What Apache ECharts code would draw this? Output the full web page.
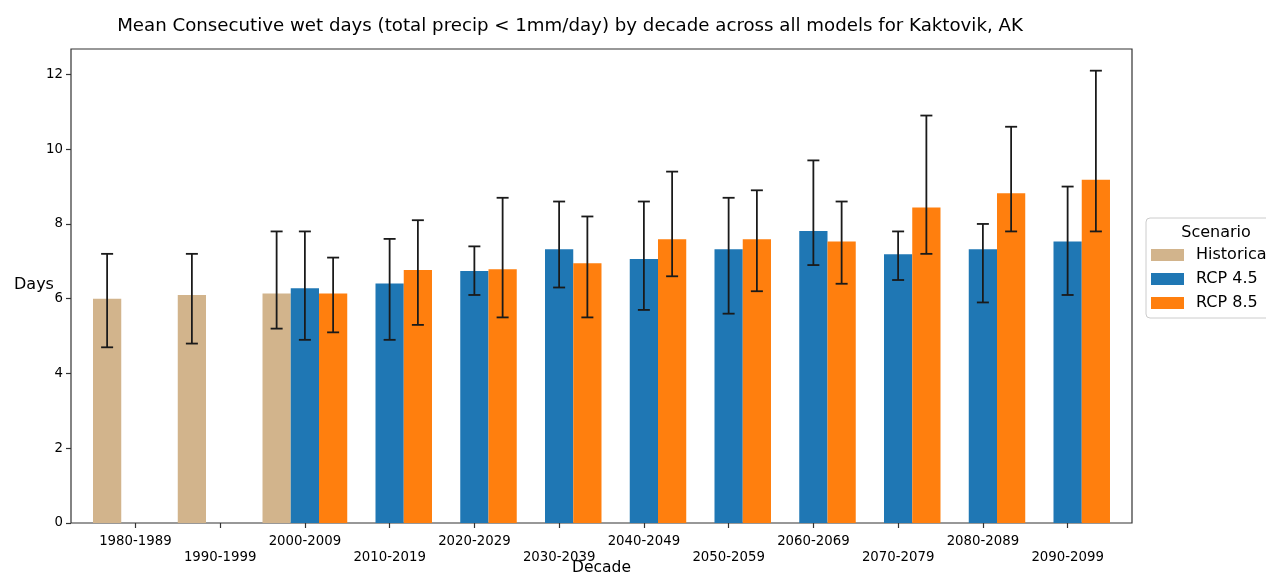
<!DOCTYPE html>
<html>
<head>
<meta charset="utf-8">
<script src="https://cdn.jsdelivr.net/npm/echarts@6/dist/echarts.min.js"></script>
<style>html,body{margin:0;padding:0;background:#fff;}#c{width:1266px;height:576px;}</style>
</head>
<body>
<div id="c"></div>
<script>
const decades = ['1980-1989','1990-1999','2000-2009','2010-2019','2020-2029','2030-2039','2040-2049','2050-2059','2060-2069','2070-2079','2080-2089','2090-2099'];
const histMean  = [6.0, 6.1, 6.14, '-', '-', '-', '-', '-', '-', '-', '-', '-'];
const histLow   = [4.7, 4.8, 5.2,  '-', '-', '-', '-', '-', '-', '-', '-', '-'];
const histHigh  = [7.2, 7.2, 7.8,  '-', '-', '-', '-', '-', '-', '-', '-', '-'];
const rcp45Mean = ['-', '-', 6.28, 6.41, 6.74, 7.32, 7.06, 7.32, 7.81, 7.19, 7.32, 7.53];
const rcp45Low  = ['-', '-', 4.9, 4.9, 6.1, 6.3, 5.7, 5.6, 6.9, 6.5, 5.9, 6.1];
const rcp45High = ['-', '-', 7.8, 7.6, 7.4, 8.6, 8.6, 8.7, 9.7, 7.8, 8.0, 9.0];
const rcp85Mean = ['-', '-', 6.14, 6.77, 6.79, 6.95, 7.59, 7.59, 7.53, 8.44, 8.82, 9.18];
const rcp85Low  = ['-', '-', 5.1, 5.3, 5.5, 5.5, 6.6, 6.2, 6.4, 7.2, 7.8, 7.8];
const rcp85High = ['-', '-', 7.1, 8.1, 8.7, 8.2, 9.4, 8.9, 8.6, 10.9, 10.6, 12.1];
const yTicks = [0, 2, 4, 6, 8, 10, 12];
const yMax = 12.68;

const FONT = 'DejaVu Sans';
const chart = echarts.init(document.getElementById('c'), null, {renderer: 'canvas'});

function errData(low, high) {
  const out = [];
  for (let i = 0; i < low.length; i++) {
    if (low[i] !== '-' && high[i] !== '-') out.push([i, low[i], high[i]]);
  }
  return out;
}
function errSeries(name, low, high, slot) {
  return {
    name: name,
    type: 'custom',
    xAxisIndex: 1, yAxisIndex: 1,
    z: 10,
    silent: true,
    encode: {x: 0, y: [1, 2]},
    data: errData(low, high),
    renderItem: function (params, api) {
      const x = api.value(0);
      const band = api.size([1, 0])[0];
      const pLow = api.coord([x, api.value(1)]);
      const pHigh = api.coord([x, api.value(2)]);
      const cx = pLow[0] + slot * band / 3;
      const hw = 6;
      const style = {stroke: '#1a1a1a', lineWidth: 1.8, fill: null};
      return {
        type: 'group',
        children: [
          {type: 'line', shape: {x1: cx, y1: pLow[1], x2: cx, y2: pHigh[1]}, style: style},
          {type: 'line', shape: {x1: cx - hw, y1: pLow[1], x2: cx + hw, y2: pLow[1]}, style: style},
          {type: 'line', shape: {x1: cx - hw, y1: pHigh[1], x2: cx + hw, y2: pHigh[1]}, style: style}
        ]
      };
    }
  };
}

const option = {
  animation: false,
  backgroundColor: '#fff',
  textStyle: {fontFamily: FONT},
  title: [
    {text: 'Mean Consecutive wet days (total precip < 1mm/day) by decade across all models for Kaktovik, AK',
     left: 565, textAlign: 'center', top: 12,
     textStyle: {fontFamily: FONT, fontSize: 18.2, fontWeight: 'normal', color: '#000'}},
    {text: 'Scenario', left: 1211, textAlign: 'center', top: 220,
     textStyle: {fontFamily: FONT, fontSize: 16, fontWeight: 'normal', color: '#000'}},
    {text: 'Days', left: 9, top: 272,
     textStyle: {fontFamily: FONT, fontSize: 16, fontWeight: 'normal', color: '#000'}}
  ],
  legend: {
    orient: 'vertical',
    left: 1146, top: 218,
    padding: [29, 8, 7, 5],
    itemWidth: 33, itemHeight: 12, itemGap: 8,
    icon: 'rect',
    borderColor: '#cccccc', borderWidth: 1, borderRadius: 4,
    backgroundColor: '#fff',
    textStyle: {fontFamily: FONT, fontSize: 16, color: '#000', lineHeight: 16, padding: [0, 0, 0, 7]},
    data: ['Historical', 'RCP 4.5', 'RCP 8.5']
  },
  grid: [
    {left: 71, right: 134, top: 49, bottom: 53, outerBoundsMode: 'none', containLabel: false,
     show: true, borderColor: '#333', borderWidth: 1.2, backgroundColor: 'transparent'},
    {left: 93, right: 156, top: 49, bottom: 53, outerBoundsMode: 'none', containLabel: false}
  ],
  xAxis: [
    {gridIndex: 0, type: 'value', min: 0, max: 1, show: false},
    {gridIndex: 1, type: 'category', data: decades, boundaryGap: true,
     name: 'Decade', nameLocation: 'middle', nameGap: 37, nameMoveOverlap: false,
     nameTextStyle: {fontFamily: FONT, fontSize: 15.5, color: '#000'},
     axisLine: {show: false},
     axisTick: {show: true, alignWithLabel: true, length: 5, lineStyle: {color: '#333', width: 1.2}},
     axisLabel: {interval: 0, margin: 11, fontFamily: FONT, fontSize: 13.3, color: '#000', lineHeight: 15.5,
       formatter: function (v, i) { return i % 2 === 1 ? '\n' + v : v; }}}
  ],
  yAxis: [
    {gridIndex: 0, type: 'value', min: 0, max: yMax, interval: 2,
     splitLine: {show: false},
     axisLine: {show: false},
     axisTick: {show: true, length: 5, customValues: yTicks, lineStyle: {color: '#333', width: 1.2}},
     axisLabel: {margin: 8, fontFamily: FONT, fontSize: 13.3, color: '#000', customValues: yTicks}},
    {gridIndex: 1, type: 'value', min: 0, max: yMax, show: false, splitLine: {show: false}}
  ],
  series: [
    {name: 'Historical', type: 'bar', xAxisIndex: 1, yAxisIndex: 1, data: histMean,
     barWidth: '33.33%', barGap: '0%', itemStyle: {color: '#d2b48c'}},
    {name: 'RCP 4.5', type: 'bar', xAxisIndex: 1, yAxisIndex: 1, data: rcp45Mean,
     barWidth: '33.33%', barGap: '0%', itemStyle: {color: '#1f77b4'}},
    {name: 'RCP 8.5', type: 'bar', xAxisIndex: 1, yAxisIndex: 1, data: rcp85Mean,
     barWidth: '33.33%', barGap: '0%', itemStyle: {color: '#ff7f0e'}},
    errSeries('err-hist', histLow, histHigh, -1),
    errSeries('err-45', rcp45Low, rcp45High, 0),
    errSeries('err-85', rcp85Low, rcp85High, 1)
  ]
};
chart.setOption(option);
</script>
</body>
</html>
